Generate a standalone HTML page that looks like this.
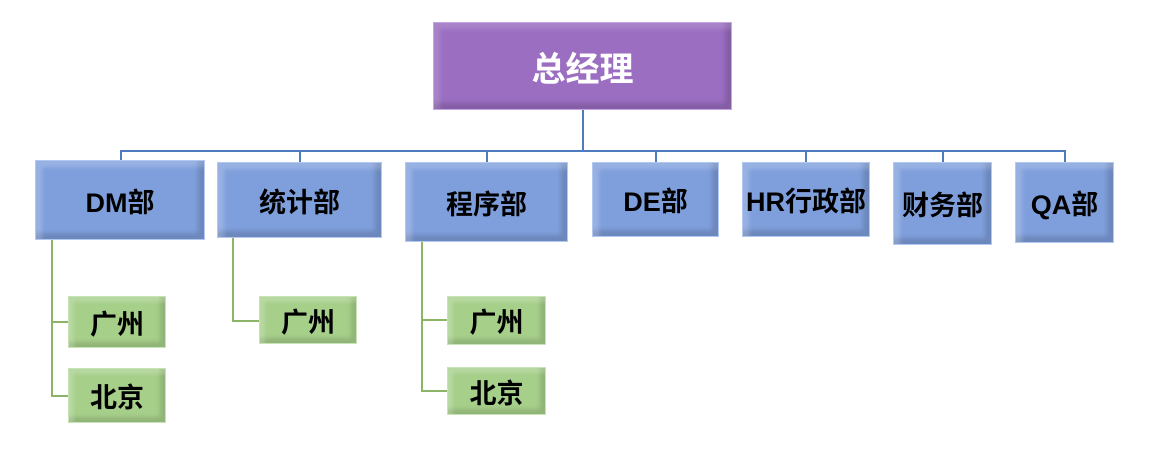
<!DOCTYPE html>
<html><head><meta charset="utf-8"><style>
body{margin:0;width:1156px;height:456px;background:#fff;position:relative;overflow:hidden;font-family:"Liberation Sans","Noto Sans CJK SC",sans-serif;}
.b{position:absolute;box-sizing:border-box;display:flex;align-items:center;justify-content:center;font-weight:bold;}
.p{background:#9b6ec2;border:1px solid #c7a6e6;color:#fff;font-size:34px;box-shadow:inset 6px 6px 4px rgba(255,255,255,.15),inset -6px -6px 5px rgba(0,0,0,.15);}
.u{background:#7f9fdc;border:1px solid #b3c8f0;color:#000;font-size:27px;box-shadow:inset 6px 6px 4px rgba(255,255,255,.2),inset -6px -6px 5px rgba(0,0,0,.15);}
.g{background:#a6cf8a;border:1px solid #c9e4b4;color:#000;font-size:27px;box-shadow:inset 5px 5px 3px rgba(255,255,255,.2),inset -5px -5px 4px rgba(0,0,0,.13);}
.l{position:absolute;}
.bl{background:#4f7cc0;}
.gl{background:#8bb468;}
</style></head><body>
<div class="l bl" style="left:582px;top:110px;width:2px;height:42px"></div>
<div class="l bl" style="left:120px;top:150px;width:946px;height:2px"></div>
<div class="l bl" style="left:120px;top:150px;width:2px;height:10px"></div>
<div class="l bl" style="left:299px;top:150px;width:2px;height:12px"></div>
<div class="l bl" style="left:486px;top:150px;width:2px;height:12px"></div>
<div class="l bl" style="left:655px;top:150px;width:2px;height:12px"></div>
<div class="l bl" style="left:805px;top:150px;width:2px;height:12px"></div>
<div class="l bl" style="left:942px;top:150px;width:2px;height:12px"></div>
<div class="l bl" style="left:1064px;top:150px;width:2px;height:12px"></div>

<div class="l gl" style="left:51px;top:240px;width:2px;height:157px"></div>
<div class="l gl" style="left:51px;top:321px;width:17px;height:2px"></div>
<div class="l gl" style="left:51px;top:395px;width:17px;height:2px"></div>
<div class="l gl" style="left:232px;top:238px;width:2px;height:84px"></div>
<div class="l gl" style="left:232px;top:320px;width:27px;height:2px"></div>
<div class="l gl" style="left:421px;top:242px;width:2px;height:150px"></div>
<div class="l gl" style="left:421px;top:319px;width:26px;height:2px"></div>
<div class="l gl" style="left:421px;top:390px;width:26px;height:2px"></div>

<div class="b p" style="left:433px;top:22px;width:299px;height:88px">总经理</div>
<div class="b u" style="left:35px;top:160px;width:170px;height:80px">DM部</div>
<div class="b u" style="left:217px;top:162px;width:165px;height:76px">统计部</div>
<div class="b u" style="left:405px;top:162px;width:163px;height:80px">程序部</div>
<div class="b u" style="left:592px;top:162px;width:127px;height:75px">DE部</div>
<div class="b u" style="left:742px;top:162px;width:128px;height:75px">HR行政部</div>
<div class="b u" style="left:893px;top:162px;width:99px;height:83px">财务部</div>
<div class="b u" style="left:1015px;top:162px;width:99px;height:81px">QA部</div>

<div class="b g" style="left:68px;top:296px;width:98px;height:52px">广州</div>
<div class="b g" style="left:68px;top:368px;width:98px;height:55px">北京</div>
<div class="b g" style="left:259px;top:296px;width:98px;height:48px">广州</div>
<div class="b g" style="left:447px;top:296px;width:99px;height:49px">广州</div>
<div class="b g" style="left:447px;top:367px;width:99px;height:48px">北京</div>
</body></html>
